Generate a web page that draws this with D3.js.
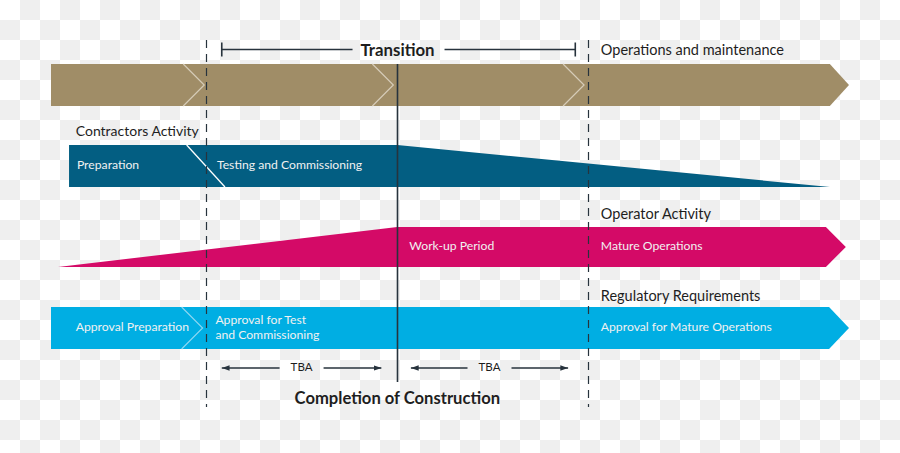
<!DOCTYPE html>
<html><head><meta charset="utf-8">
<script src="https://cdn.jsdelivr.net/npm/d3@7"></script>
<style>
html,body{margin:0;padding:0;background:#fff;}
svg{display:block;}
text{font-family:"Lato","Open Sans",sans-serif;}
</style></head>
<body>
<svg id="chart" width="900" height="453"></svg>
<script>
// ---- data (timeline units 0..100) ----
const milestones = [
  {name: "testStart", t: 19.4, style: "dashed"},
  {name: "completion", t: 43.4, style: "solid"},
  {name: "mature", t: 67.3, style: "dashed"}
];
const phaseChevrons = [19.2, 42.9, 66.8];      // top band separators (tips)
const regChevrons = [19.0];                     // regulatory band separators
const transition = {label: "Transition", from: 21.4, to: 65.7};
const tbaSpans = [{label: "TBA", from: 21.4, to: 41.4}, {label: "TBA", from: 45.1, to: 64.8}];
const contractor = {start: 2.26, divTop: 17.0, divBottom: 21.8, rampStart: 43.4, rampEnd: 97.6};
const operator = {start: 0.88, rampEnd: 43.4, flatEnd: 97.1, tip: 99.6};
const phaseBand = {start: 0, flatEnd: 97.6, tip: 100};
const regBand = {start: 0, flatEnd: 97.5, tip: 100};
const headings = [
  {text: "Operations and maintenance", t: 68.9, row: "phase"},
  {text: "Contractors Activity", t: 3.1, row: "contractor"},
  {text: "Operator Activity", t: 68.9, row: "operator"},
  {text: "Regulatory Requirements", t: 68.9, row: "reg"}
];
const bandLabels = [
  {lines: ["Preparation"], t: 3.25, row: "contractor"},
  {lines: ["Testing and Commissioning"], t: 20.8, row: "contractor"},
  {lines: ["Work-up Period"], t: 44.9, row: "operator"},
  {lines: ["Mature Operations"], t: 68.9, row: "operator"},
  {lines: ["Approval Preparation"], t: 3.1, row: "reg"},
  {lines: ["Approval for Test", "and Commissioning"], t: 20.6, row: "reg"},
  {lines: ["Approval for Mature Operations"], t: 68.9, row: "reg"}
];
const completionLabel = "Completion of Construction";

// ---- layout ----
const W = 900, H = 453;
const x = d3.scaleLinear().domain([0, 100]).range([51, 849]);
const rows = {
  phase: {top: 64, bottom: 106, head: 55},
  contractor: {top: 145, bottom: 187, head: 136},
  operator: {top: 227, bottom: 267, head: 219},
  reg: {top: 307, bottom: 349, head: 301}
};
const colors = {gold: "#a08d67", navy: "#035e82", magenta: "#d40a67", cyan: "#00aee3", ink: "#1e1e1e", line: "#27333d"};

const svg = d3.select("#chart");

// checkerboard background
const defs = svg.append("defs");
const pat = defs.append("pattern").attr("id", "chk").attr("width", 40).attr("height", 40).attr("patternUnits", "userSpaceOnUse");
pat.append("rect").attr("width", 40).attr("height", 40).attr("fill", "#ffffff");
pat.append("rect").attr("x", 20).attr("y", 0).attr("width", 20).attr("height", 20).attr("fill", "#efefef");
pat.append("rect").attr("x", 0).attr("y", 20).attr("width", 20).attr("height", 20).attr("fill", "#efefef");
svg.append("rect").attr("width", W).attr("height", H).attr("fill", "url(#chk)");

const line = d3.line();
const chevW = x(2.63) - x(0);

function arrowBand(b, r, color) {
  const mid = (r.top + r.bottom) / 2;
  svg.append("path").attr("d", line([[x(b.start), r.top], [x(b.flatEnd), r.top], [x(b.tip), mid], [x(b.flatEnd), r.bottom], [x(b.start), r.bottom]]) + "Z")
    .attr("fill", color);
}
// phase band
arrowBand(phaseBand, rows.phase, colors.gold);
svg.selectAll(".pchev").data(phaseChevrons).join("path").attr("class", "pchev")
  .attr("d", d => line([[x(d) - chevW, rows.phase.top], [x(d), (rows.phase.top + rows.phase.bottom) / 2], [x(d) - chevW, rows.phase.bottom]]))
  .attr("fill", "none").attr("stroke", "#d6ccb8").attr("stroke-width", 1.2);

// contractor band
{
  const r = rows.contractor;
  svg.append("path").attr("d", line([[x(contractor.start), r.top], [x(contractor.rampStart), r.top], [x(contractor.rampEnd), r.bottom], [x(contractor.start), r.bottom]]) + "Z")
    .attr("fill", colors.navy);
  svg.append("line").attr("x1", x(contractor.divTop)).attr("y1", r.top).attr("x2", x(contractor.divBottom)).attr("y2", r.bottom)
    .attr("stroke", "#ffffff").attr("stroke-width", 1.3);
}

// operator band
{
  const r = rows.operator;
  const mid = (r.top + r.bottom) / 2;
  svg.append("path").attr("d", line([[x(operator.start), r.bottom], [x(operator.rampEnd), r.top], [x(operator.flatEnd), r.top], [x(operator.tip), mid], [x(operator.flatEnd), r.bottom]]) + "Z")
    .attr("fill", colors.magenta);
}

// regulatory band
arrowBand(regBand, rows.reg, colors.cyan);
svg.selectAll(".rchev").data(regChevrons).join("path").attr("class", "rchev")
  .attr("d", d => line([[x(d) - chevW, rows.reg.top], [x(d), (rows.reg.top + rows.reg.bottom) / 2], [x(d) - chevW, rows.reg.bottom]]))
  .attr("fill", "none").attr("stroke", "#8fd8f2").attr("stroke-width", 1.1);

// milestone lines
svg.selectAll(".ms").data(milestones).join("line").attr("class", "ms")
  .attr("x1", d => Math.round(x(d.t)) + 0.5).attr("x2", d => Math.round(x(d.t)) + 0.5)
  .attr("y1", d => d.style === "solid" ? rows.phase.top : 40)
  .attr("y2", d => d.style === "solid" ? 382 : 407)
  .attr("stroke", colors.line).attr("stroke-width", d => d.style === "solid" ? 1.6 : 1.2)
  .attr("stroke-dasharray", d => d.style === "solid" ? null : "8,6");

// transition bracket
{
  const y = 49.5;
  const tx = (x(transition.from) + x(transition.to)) / 2;
  const gap = 46;
  const g = svg.append("g").attr("stroke", colors.line).attr("stroke-width", 1.6);
  g.append("line").attr("x1", x(transition.from)).attr("x2", tx - gap).attr("y1", y).attr("y2", y);
  g.append("line").attr("x1", tx + gap).attr("x2", x(transition.to)).attr("y1", y).attr("y2", y);
  g.append("line").attr("x1", x(transition.from)).attr("x2", x(transition.from)).attr("y1", y - 7).attr("y2", y + 7);
  g.append("line").attr("x1", x(transition.to)).attr("x2", x(transition.to)).attr("y1", y - 7).attr("y2", y + 7);
  svg.append("text").attr("x", tx - 1).attr("y", y + 6).attr("text-anchor", "middle")
    .attr("font-size", 16.8).attr("font-weight", 700).attr("fill", colors.ink).text(transition.label);
}

// headings
svg.selectAll(".head").data(headings).join("text").attr("class", "head")
  .attr("x", d => x(d.t)).attr("y", d => rows[d.row].head)
  .attr("font-size", d => d.row === "contractor" ? 14 : 14.5).attr("fill", colors.ink).text(d => d.text);

// band labels
svg.selectAll(".blab").data(bandLabels).join("text").attr("class", "blab")
  .attr("x", d => x(d.t))
  .attr("y", d => (rows[d.row].top + rows[d.row].bottom) / 2 + 3 - (d.lines.length - 1) * 7)
  .attr("font-size", 12.2).attr("fill", "#f1f1f1")
  .each(function(d) {
    d3.select(this).selectAll("tspan").data(d.lines).join("tspan")
      .attr("x", x(d.t)).attr("dy", (l, i) => i === 0 ? 0 : 15).text(l => l);
  });

// TBA arrows
defs.append("marker").attr("id", "ah").attr("viewBox", "0 0 10 10").attr("refX", 10).attr("refY", 5)
  .attr("markerWidth", 6).attr("markerHeight", 6).attr("orient", "auto-start-reverse")
  .append("path").attr("d", "M0,1.5L10,5L0,8.5Z").attr("fill", colors.line);
const tbaY = 368;
tbaSpans.forEach(s => {
  const cx = (x(s.from) + x(s.to)) / 2;
  const gap = 22;
  svg.append("line").attr("x1", cx - gap).attr("x2", x(s.from)).attr("y1", tbaY).attr("y2", tbaY)
    .attr("stroke", colors.line).attr("stroke-width", 1.3).attr("marker-end", "url(#ah)");
  svg.append("line").attr("x1", cx + gap).attr("x2", x(s.to)).attr("y1", tbaY).attr("y2", tbaY)
    .attr("stroke", colors.line).attr("stroke-width", 1.3).attr("marker-end", "url(#ah)");
  svg.append("text").attr("x", cx).attr("y", tbaY + 3).attr("text-anchor", "middle")
    .attr("font-size", 11.5).attr("fill", colors.ink).attr("font-family", "Liberation Sans, Arial, sans-serif").text(s.label);
});

// completion label
svg.append("text").attr("x", x(milestones[1].t)).attr("y", 404).attr("text-anchor", "middle")
  .attr("font-size", 16.6).attr("font-weight", 700).attr("fill", colors.ink).text(completionLabel);
</script>
</body></html>
